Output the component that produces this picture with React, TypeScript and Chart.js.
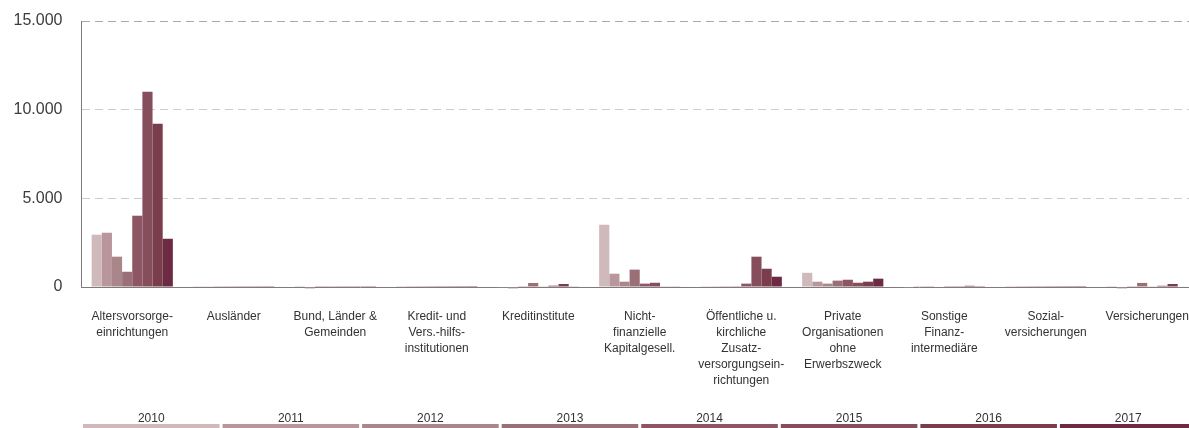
import React, { useEffect, useRef } from "react";
import { Chart, registerables } from "chart.js";

Chart.register(...registerables);

const categories: string[][] = [
  ["Altersvorsorge-", "einrichtungen"],
  ["Ausländer"],
  ["Bund, Länder &", "Gemeinden"],
  ["Kredit- und", "Vers.-hilfs-", "institutionen"],
  ["Kreditinstitute"],
  ["Nicht-", "finanzielle", "Kapitalgesell."],
  ["Öffentliche u.", "kirchliche", "Zusatz-", "versorgungsein-", "richtungen"],
  ["Private", "Organisationen", "ohne", "Erwerbszweck"],
  ["Sonstige", "Finanz-", "intermediäre"],
  ["Sozial-", "versicherungen"],
  ["Versicherungen"],
];

const years = ["2010", "2011", "2012", "2013", "2014", "2015", "2016", "2017"];

const colors = [
  "#cfb9bb",
  "#b9969b",
  "#a8868a",
  "#9b6f77",
  "#8e5565",
  "#864e5d",
  "#7a3d4c",
  "#6d2a43",
];

const s2010 = [2950, 10, 5, 5, -20, 3510, 10, 800, -40, 5, 5];
const s2011 = [3060, 15, -80, 5, -80, 750, 10, 300, 10, 5, -80];
const s2012 = [1710, 10, 5, 5, 10, 300, 10, 190, 10, 5, 10];
const s2013 = [860, 10, 10, 5, 225, 980, 10, 360, -40, 5, 230];
const s2014 = [4020, 10, 10, 5, 20, 190, 190, 410, 10, 5, 20];
const s2015 = [11010, 10, 10, 5, 75, 240, 1710, 240, 10, 5, 70];
const s2016 = [9210, 10, 10, 5, 170, 20, 1030, 300, 70, 5, 170];
const s2017 = [2720, 10, 10, 5, 20, 20, 580, 470, 10, 5, 30];

const seriesValues = [s2010, s2011, s2012, s2013, s2014, s2015, s2016, s2017];

const yTicks = [0, 5000, 10000, 15000];

const formatDE = (v: number) =>
  String(v).replace(/\B(?=(\d{3})+(?!\d))/g, ".");

const yearBandPlugin = {
  id: "yearBand",
  afterDraw(chart: any) {
    const { ctx, chartArea } = chart;
    const left = chartArea.left;
    const right = chartArea.right;
    const seg = (right - left) / years.length;
    const barTop = chart.height - 4;
    ctx.save();
    years.forEach((y, i) => {
      const x0 = left + i * seg + 1.5;
      const x1 = left + (i + 1) * seg - 1.5;
      ctx.fillStyle = colors[i];
      ctx.fillRect(x0, barTop, x1 - x0, 6);
      ctx.fillStyle = "#333333";
      ctx.font = "12px 'Liberation Sans', Arial, sans-serif";
      ctx.textAlign = "center";
      ctx.textBaseline = "alphabetic";
      ctx.fillText(y, (x0 + x1) / 2, barTop - 2);
    });
    ctx.restore();
  },
};

export default function App() {
  const ref = useRef<HTMLCanvasElement>(null);

  useEffect(() => {
    document.body.style.overflow = "hidden";
    Chart.defaults.font.family = "'Liberation Sans', Arial, sans-serif";
    const chart = new Chart(ref.current as HTMLCanvasElement, {
      type: "bar",
      data: {
        labels: categories,
        datasets: years.map((y, i) => ({
          label: y,
          data: seriesValues[i],
          backgroundColor: colors[i],
          borderWidth: 0,
          categoryPercentage: 0.8,
          barPercentage: 1,
          clip: false as any,
        })),
      },
      options: {
        responsive: false,
        maintainAspectRatio: false,
        animation: false,
        devicePixelRatio: 1,
        layout: { padding: { top: 21, right: 2, left: 0, bottom: 0 } },
        plugins: {
          legend: { display: false },
          tooltip: { enabled: false },
        },
        scales: {
          x: {
            grid: { display: false, drawTicks: false },
            border: { display: true, color: "#807a7c", width: 1 },
            ticks: {
              color: "#333333",
              font: { size: 12, lineHeight: 1.33 },
              padding: 22,
              maxRotation: 0,
              autoSkip: false,
            },
            afterFit: (s: any) => {
              s.height = 141;
              s.paddingLeft = 0;
              s.paddingRight = 0;
            },
          },
          y: {
            min: 0,
            max: 15000,
            afterBuildTicks: (s: any) => {
              s.ticks = yTicks.map((v) => ({ value: v }));
            },
            grid: {
              color: (c: any) =>
                c.tick && c.tick.value === 0
                  ? "rgba(0,0,0,0)"
                  : c.tick && c.tick.value === 15000
                  ? "#a9a9a9"
                  : "#cccccc",
              drawTicks: false,
              lineWidth: 1,
            },
            border: { display: true, color: "#807a7c", width: 1, dash: [8, 5] },
            ticks: {
              color: "#3c3c3c",
              font: { size: 16 },
              padding: 19,
              callback: (v: any) => formatDE(Number(v)),
            },
            afterFit: (s: any) => {
              s.width = 81.5;
              s.paddingTop = 0;
              s.paddingBottom = 0;
            },
          },
        },
      },
      plugins: [yearBandPlugin],
    });
    return () => chart.destroy();
  }, []);

  return (
    <canvas
      ref={ref}
      width={1200}
      height={428}
      style={{ position: "fixed", left: 0, top: 0, width: 1200, height: 428 }}
    />
  );
}
